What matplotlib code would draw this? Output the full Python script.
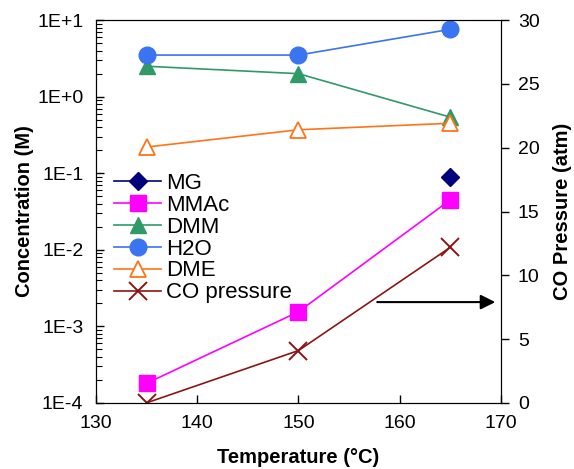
import matplotlib.pyplot as plt
import numpy as np
from matplotlib.ticker import FixedLocator, FuncFormatter, LogLocator, NullFormatter

plt.rcParams['font.family'] = ['Liberation Sans', 'DejaVu Sans']

temp = [135, 150, 165]
mg_temp = [165]
mg = [0.09]
mmac = [1.8e-4, 1.55e-3, 0.045]
dmm = [2.5, 2.0, 0.54]
h2o = [3.5, 3.5, 7.6]
dme = [0.22, 0.37, 0.45]
co_pressure = [0.0, 4.1, 12.2]

fig = plt.figure(figsize=(5.74, 4.69), dpi=100)
ax = fig.add_axes([0.167, 0.141, 0.706, 0.816])
ax2 = ax.twinx()

l_mg, = ax.plot(mg_temp, mg, marker='D', color='#00007f', ms=9, lw=1.2, label='MG')
l_mmac, = ax.plot(temp, mmac, marker='s', color='#ff00ff', ms=11, lw=1.2, label='MMAc')
l_dmm, = ax.plot(temp, dmm, marker='^', color='#2f9a68', ms=12, lw=1.2, label='DMM')
l_h2o, = ax.plot(temp, h2o, marker='o', color='#3b74f0', ms=12, lw=1.2, label='H2O')
l_dme, = ax.plot(temp, dme, marker='^', color='#ff7418', mfc='white', mew=1.3, ms=12, lw=1.2, label='DME')
l_co, = ax2.plot(temp, co_pressure, marker='x', color='#8b1515', ms=13, mew=1.4, lw=1.2, label='CO pressure')

ax.set_yscale('log')
ax.set_ylim(1e-4, 10)
ax.set_xlim(130, 170)
ax2.set_ylim(0, 30)

ax.xaxis.set_major_locator(FixedLocator([130, 140, 150, 160, 170]))
ax.yaxis.set_major_locator(LogLocator(base=10, numticks=10))
ax.yaxis.set_minor_locator(LogLocator(base=10, subs=np.arange(2, 10), numticks=20))
ax.yaxis.set_minor_formatter(NullFormatter())
ax.yaxis.set_major_formatter(FuncFormatter(lambda v, p: '1E%+d' % round(np.log10(v))))
ax2.set_yticks([0, 5, 10, 15, 20, 25, 30])

ax.tick_params(axis='both', which='major', labelsize=14, direction='in', length=6, width=1)
ax.tick_params(axis='x', pad=9)
ax.tick_params(axis='y', pad=9)
ax.tick_params(axis='y', which='minor', direction='in', length=4, width=0.8)
ax2.tick_params(axis='y', labelsize=14, direction='out', length=6, width=1, pad=6)

ax.set_xlabel('Temperature (°C)', fontsize=14.5, fontweight='bold', labelpad=11)
ax.set_ylabel('Concentration (M)', fontsize=14.5, fontweight='bold', labelpad=2)
ax2.set_ylabel('CO Pressure (atm)', fontsize=14.5, fontweight='bold', labelpad=10)

# arrow pointing to the CO pressure axis
ax2.annotate('', xy=(169.7, 7.9), xytext=(157.5, 7.9),
             arrowprops=dict(arrowstyle='-|>', color='black', lw=1.5, mutation_scale=22))

ax2.legend(handles=[l_mg, l_mmac, l_dmm, l_h2o, l_dme, l_co], loc='upper left',
           bbox_to_anchor=(0.018, 0.63), frameon=False, fontsize=16,
           handlelength=2.1, handletextpad=0.25, labelspacing=0.04, borderpad=0)

fig.savefig('out.png', dpi=100)
